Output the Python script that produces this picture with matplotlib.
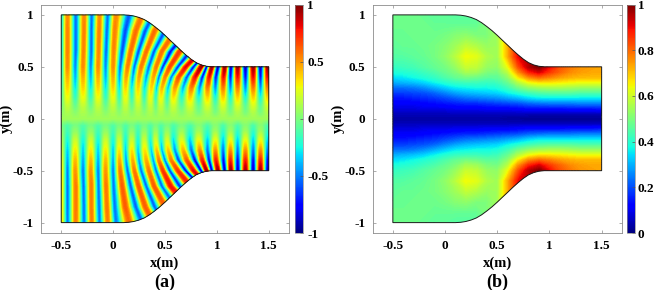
import matplotlib
matplotlib.use("Agg")
import matplotlib.pyplot as plt
import numpy as np
from matplotlib.patches import Polygon

plt.rcParams['font.family'] = 'Liberation Serif'
plt.rcParams['font.weight'] = 'bold'

# upper wall of the duct
wall_x = [-0.5, 0.10, 0.15, 0.20, 0.25, 0.30, 0.35, 0.40, 0.45, 0.50, 0.55, 0.60, 0.65, 0.70, 0.75, 0.80, 0.85, 0.90, 0.95, 1.00, 1.5]
wall_y = [1.0, 1.0, 0.997, 0.989, 0.975, 0.955, 0.925, 0.888, 0.848, 0.803, 0.755, 0.708, 0.660, 0.615, 0.574, 0.540, 0.518, 0.505, 0.500, 0.500, 0.5]

# panel (a): x of each crest / trough line at the y levels below
stripe_levels = [1.05, 0.85, 0.65, 0.5, 0.4, 0.3, 0.2, 0.12, 0.06, 0.0]
stripe_x = [
    [-0.50, -0.50, -0.50, -0.50, -0.50, -0.50, -0.50, -0.50, -0.50, -0.50],
    [-0.44, -0.44, -0.44, -0.44, -0.44, -0.44, -0.44, -0.44, -0.44, -0.44],
    [-0.36, -0.36, -0.36, -0.365, -0.365, -0.365, -0.365, -0.365, -0.365, -0.365],
    [-0.28, -0.28, -0.285, -0.29, -0.29, -0.29, -0.29, -0.29, -0.29, -0.29],
    [-0.205, -0.21, -0.21, -0.215, -0.215, -0.215, -0.215, -0.215, -0.215, -0.215],
    [-0.13, -0.135, -0.14, -0.145, -0.145, -0.145, -0.145, -0.145, -0.145, -0.145],
    [-0.05, -0.06, -0.068, -0.072, -0.072, -0.072, -0.072, -0.072, -0.072, -0.072],
    [0.03, 0.015, 0.005, 0.0, 0.0, 0.0, 0.0, 0.0, 0.0, 0.0],
    [0.165, 0.118, 0.088, 0.068, 0.062, 0.06, 0.06, 0.06, 0.06, 0.06],
    [0.30, 0.22, 0.17, 0.14, 0.125, 0.12, 0.12, 0.12, 0.12, 0.12],
    [0.41, 0.31, 0.245, 0.205, 0.19, 0.18, 0.18, 0.18, 0.18, 0.18],
    [0.52, 0.40, 0.32, 0.27, 0.25, 0.24, 0.24, 0.24, 0.24, 0.24],
    [0.66, 0.50, 0.395, 0.345, 0.32, 0.305, 0.30, 0.30, 0.30, 0.30],
    [0.80, 0.60, 0.47, 0.415, 0.39, 0.37, 0.36, 0.36, 0.36, 0.36],
    [0.925, 0.725, 0.555, 0.48, 0.44, 0.42, 0.41, 0.41, 0.41, 0.41],
    [1.05, 0.85, 0.64, 0.545, 0.50, 0.47, 0.46, 0.46, 0.46, 0.46],
    [1.125, 0.925, 0.745, 0.625, 0.56, 0.53, 0.52, 0.52, 0.52, 0.52],
    [1.20, 1.00, 0.85, 0.70, 0.63, 0.595, 0.58, 0.58, 0.58, 0.58],
    [1.25, 1.05, 0.91, 0.775, 0.71, 0.675, 0.66, 0.66, 0.66, 0.66],
    [1.30, 1.10, 0.97, 0.85, 0.79, 0.755, 0.74, 0.74, 0.74, 0.74],
    [1.34, 1.15, 1.01, 0.90, 0.86, 0.835, 0.825, 0.825, 0.825, 0.825],
    [1.38, 1.20, 1.05, 0.95, 0.925, 0.91, 0.91, 0.91, 0.91, 0.91],
    [1.40, 1.24, 1.10, 1.01, 0.99, 0.985, 0.985, 0.985, 0.985, 0.985],
    [1.42, 1.28, 1.15, 1.075, 1.065, 1.06, 1.06, 1.06, 1.06, 1.06],
    [1.44, 1.32, 1.20, 1.135, 1.13, 1.13, 1.13, 1.13, 1.13, 1.13],
    [1.46, 1.36, 1.25, 1.20, 1.20, 1.20, 1.20, 1.20, 1.20, 1.20],
    [1.48, 1.39, 1.305, 1.275, 1.275, 1.275, 1.275, 1.275, 1.275, 1.275],
    [1.50, 1.42, 1.36, 1.35, 1.35, 1.35, 1.35, 1.35, 1.35, 1.35],
    [1.51, 1.46, 1.43, 1.42, 1.42, 1.42, 1.42, 1.42, 1.42, 1.42],
    [1.52, 1.49, 1.49, 1.49, 1.49, 1.49, 1.49, 1.49, 1.49, 1.49],
    [1.56, 1.56, 1.56, 1.56, 1.56, 1.56, 1.56, 1.56, 1.56, 1.56],
]
# field value along crest and trough lines in the upper half
edge_l = [-0.3, -0.3, -0.3, -0.28, -0.22, -0.15, -0.08, -0.02, 0.03, 0.08]
crest_l = [0.52, 0.54, 0.54, 0.52, 0.44, 0.36, 0.26, 0.16, 0.11, 0.08]
trough_l = [-0.54, -0.56, -0.56, -0.5, -0.42, -0.31, -0.18, -0.05, 0.02, 0.08]
crest_m = [0.56, 0.58, 0.58, 0.55, 0.46, 0.36, 0.26, 0.16, 0.11, 0.08]
trough_m = [-0.58, -0.62, -0.62, -0.56, -0.45, -0.32, -0.18, -0.05, 0.02, 0.08]
crest_n = [0.7, 0.7, 0.7, 0.66, 0.54, 0.42, 0.28, 0.17, 0.11, 0.08]
trough_n = [-0.78, -0.78, -0.78, -0.7, -0.55, -0.38, -0.2, -0.06, 0.02, 0.08]
crest_t = [0.85, 0.85, 0.85, 0.8, 0.65, 0.48, 0.32, 0.18, 0.12, 0.08]
trough_t = [-0.9, -0.9, -0.9, -0.8, -0.62, -0.42, -0.22, -0.07, 0.01, 0.08]
crest_r = [0.95, 0.95, 0.95, 0.95, 0.78, 0.55, 0.35, 0.2, 0.12, 0.08]
trough_r = [-0.95, -0.95, -0.95, -0.95, -0.75, -0.5, -0.25, -0.08, -0.02, 0.08]
edge_r = [-0.6, -0.6, -0.6, -0.6, -0.45, -0.3, -0.15, -0.05, 0.0, 0.08]
stripe_val = [edge_l, crest_l, trough_l, crest_l, trough_l, crest_l, trough_l, crest_l,
              trough_m, crest_m, trough_m, crest_m, trough_m, crest_m, trough_n, crest_n,
              trough_n, crest_t, trough_t, crest_r, trough_r, crest_r, trough_r, crest_r,
              trough_r, crest_r, trough_r, crest_r, trough_r, crest_r, edge_r]

# panel (b): amplitude on a grid, upper half
amp_x = [-0.5, -0.4, -0.3, -0.2, -0.1, 0.0, 0.1, 0.2, 0.3, 0.4, 0.5, 0.6, 0.7, 0.8, 0.9, 1.0, 1.1, 1.2, 1.3, 1.4, 1.5]
amp_y = [0.0, 0.05, 0.1, 0.15, 0.2, 0.25, 0.3, 0.35, 0.4, 0.45, 0.5, 0.6, 0.7, 0.8, 0.9, 1.0]
amp = [
    [0.03, 0.03, 0.03, 0.03, 0.03, 0.03, 0.03, 0.03, 0.03, 0.03, 0.03, 0.02, 0.02, 0.01, 0.01, 0.01, 0.01, 0.01, 0.01, 0.01, 0.01],
    [0.05, 0.05, 0.05, 0.05, 0.05, 0.05, 0.05, 0.05, 0.05, 0.05, 0.05, 0.05, 0.05, 0.05, 0.05, 0.05, 0.05, 0.05, 0.05, 0.05, 0.05],
    [0.08, 0.08, 0.08, 0.09, 0.09, 0.09, 0.1, 0.1, 0.1, 0.11, 0.11, 0.11, 0.12, 0.13, 0.13, 0.13, 0.13, 0.14, 0.14, 0.14, 0.15],
    [0.11, 0.11, 0.11, 0.12, 0.13, 0.14, 0.15, 0.16, 0.16, 0.17, 0.18, 0.19, 0.2, 0.22, 0.23, 0.24, 0.24, 0.24, 0.25, 0.25, 0.25],
    [0.14, 0.14, 0.15, 0.16, 0.17, 0.19, 0.21, 0.23, 0.24, 0.25, 0.26, 0.28, 0.3, 0.33, 0.35, 0.35, 0.35, 0.35, 0.35, 0.35, 0.35],
    [0.18, 0.18, 0.19, 0.2, 0.22, 0.25, 0.28, 0.3, 0.31, 0.32, 0.33, 0.36, 0.39, 0.42, 0.44, 0.45, 0.45, 0.45, 0.44, 0.44, 0.44],
    [0.23, 0.23, 0.24, 0.26, 0.29, 0.32, 0.35, 0.36, 0.37, 0.37, 0.38, 0.42, 0.48, 0.52, 0.54, 0.55, 0.55, 0.54, 0.53, 0.53, 0.53],
    [0.29, 0.3, 0.31, 0.33, 0.36, 0.39, 0.41, 0.42, 0.42, 0.41, 0.42, 0.47, 0.56, 0.63, 0.66, 0.66, 0.65, 0.64, 0.63, 0.63, 0.63],
    [0.34, 0.35, 0.37, 0.39, 0.41, 0.44, 0.47, 0.49, 0.48, 0.46, 0.46, 0.52, 0.66, 0.76, 0.8, 0.77, 0.74, 0.72, 0.71, 0.71, 0.71],
    [0.38, 0.39, 0.4, 0.42, 0.44, 0.47, 0.5, 0.55, 0.54, 0.5, 0.49, 0.57, 0.75, 0.87, 0.92, 0.85, 0.8, 0.76, 0.74, 0.73, 0.73],
    [0.41, 0.42, 0.43, 0.45, 0.47, 0.49, 0.53, 0.59, 0.58, 0.53, 0.52, 0.63, 0.82, 0.95, 1.0, 0.9, 0.82, 0.78, 0.75, 0.74, 0.73],
    [0.45, 0.45, 0.46, 0.47, 0.49, 0.52, 0.57, 0.64, 0.62, 0.56, 0.54, 0.72, 0.9, 0.95, 1.0, 0.9, 0.82, 0.78, 0.75, 0.74, 0.73],
    [0.46, 0.47, 0.47, 0.48, 0.49, 0.51, 0.54, 0.58, 0.56, 0.53, 0.54, 0.72, 0.9, 0.95, 1.0, 0.9, 0.82, 0.78, 0.75, 0.74, 0.73],
    [0.47, 0.47, 0.48, 0.48, 0.48, 0.49, 0.51, 0.52, 0.5, 0.5, 0.54, 0.72, 0.9, 0.95, 1.0, 0.9, 0.82, 0.78, 0.75, 0.74, 0.73],
    [0.48, 0.48, 0.48, 0.48, 0.47, 0.47, 0.47, 0.47, 0.47, 0.5, 0.54, 0.72, 0.9, 0.95, 1.0, 0.9, 0.82, 0.78, 0.75, 0.74, 0.73],
    [0.48, 0.48, 0.48, 0.47, 0.46, 0.46, 0.45, 0.45, 0.45, 0.5, 0.54, 0.72, 0.9, 0.95, 1.0, 0.9, 0.82, 0.78, 0.75, 0.74, 0.73],
]

x_ticks = [-0.5, 0, 0.5, 1, 1.5]
y_ticks = [-1, -0.5, 0, 0.5, 1]
x_labels = ['-0.5', '0', '0.5', '1', '1.5']
y_labels = ['-1', '-0.5', '0', '0.5', '1']
cb_a_ticks = [-1, -0.5, 0, 0.5, 1]
cb_a_labels = ['-1', '-0.5', '0', '0.5', '1']
cb_b_ticks = [0, 0.2, 0.4, 0.6, 0.8, 1]
cb_b_labels = ['0', '0.2', '0.4', '0.6', '0.8', '1']

W, H = 654, 290
EDGE = '#8c8c8c'


def px_axes(fig, left, right, top, bottom):
    return fig.add_axes([left / W, 1 - bottom / H, (right - left) / W, (bottom - top) / H])


def style_axes(ax, letter):
    ax.set_xlim(-0.695, 1.695)
    ax.set_ylim(-1.1, 1.1)
    ax.set_xticks(x_ticks, x_labels, fontsize=9.5)
    ax.set_yticks(y_ticks, y_labels, fontsize=9.5)
    ax.tick_params(direction='in', length=2.5, width=0.5, color=EDGE, top=True, right=True)
    ax.tick_params(axis='x', pad=5)
    ax.tick_params(axis='y', pad=5)
    for s in ax.spines.values():
        s.set_color(EDGE)
        s.set_linewidth(0.6)
    ax.set_xlabel('x(m)', fontsize=10.5, fontweight='bold', labelpad=3)
    ax.set_ylabel('y(m)', fontsize=10.5, fontweight='bold', labelpad=0)
    ax.text(0.5, -0.214, letter, transform=ax.transAxes, ha='center', va='center', fontsize=13, fontweight='bold')


def duct_outline():
    xs = list(wall_x) + list(wall_x[::-1])
    ys = list(wall_y) + [-v for v in wall_y[::-1]]
    return np.column_stack([xs, ys])


def clip_and_outline(ax, mesh):
    poly = Polygon(duct_outline(), closed=True, facecolor='none', edgecolor='#1a1a1a', linewidth=0.7, zorder=3)
    ax.add_patch(poly)
    mesh.set_clip_path(poly)


def add_colorbar(fig, mappable, left, right, ticks, labels, pad):
    cax = px_axes(fig, left, right, 4.5, 233)
    cb = fig.colorbar(plt.cm.ScalarMappable(norm=mappable.norm, cmap='jet'), cax=cax)
    cb.set_ticks(ticks, labels=labels)
    cb.ax.tick_params(direction='in', length=2, width=0.5, color='#555555', labelsize=9.5, pad=pad)
    cb.outline.set_edgecolor(EDGE)
    cb.outline.set_linewidth(0.5)


def round_shading(X, C, steps=8):
    # shade between neighbouring stripe lines with an eased blend, so crests come out round
    t = np.arange(steps)[:, None, None] / steps
    ease = (1 - np.cos(np.pi * t)) / 2
    fine_x = X[:, :-1][None] * (1 - t) + X[:, 1:][None] * t
    fine_c = C[:, :-1][None] * (1 - ease) + C[:, 1:][None] * ease
    fine_x = np.hstack([fine_x.transpose(1, 2, 0).reshape(X.shape[0], -1), X[:, -1:]])
    fine_c = np.hstack([fine_c.transpose(1, 2, 0).reshape(X.shape[0], -1), C[:, -1:]])
    return fine_x, fine_c


fig = plt.figure(figsize=(W / 100, H / 100), dpi=100)

# (a) pressure field on a mesh that follows the stripes
ax_a = px_axes(fig, 41, 289, 4.5, 233)
sx = np.array(stripe_x)
sv = np.array(stripe_val)
levels = np.array(stripe_levels)
Xa = np.hstack([sx, sx[:, -2::-1]]).T
Ca = np.hstack([sv, -sv[:, -2::-1]]).T
Xa, Ca = round_shading(Xa, Ca)
Ya = np.concatenate([levels, -levels[-2::-1]])
Ya = np.tile(Ya[:, None], (1, Xa.shape[1]))
cs_a = ax_a.contourf(Xa, Ya, Ca, levels=np.linspace(-1, 1, 129), cmap='jet', extend='both')
clip_and_outline(ax_a, cs_a)
style_axes(ax_a, '(a)')
add_colorbar(fig, cs_a, 295, 303, cb_a_ticks, cb_a_labels, 3)

# (b) amplitude
ax_b = px_axes(fig, 372.5, 622, 4.5, 233)
top = np.array(amp)
Cb = np.vstack([top[:0:-1], top])
yb = np.concatenate([-np.array(amp_y[:0:-1]), amp_y])
cs_b = ax_b.contourf(amp_x, yb, Cb, levels=np.linspace(0, 1, 129), cmap='jet', extend='both')
clip_and_outline(ax_b, cs_b)
style_axes(ax_b, '(b)')
add_colorbar(fig, cs_b, 627, 635, cb_b_ticks, cb_b_labels, 2)

fig.savefig('out.png', dpi=100)
